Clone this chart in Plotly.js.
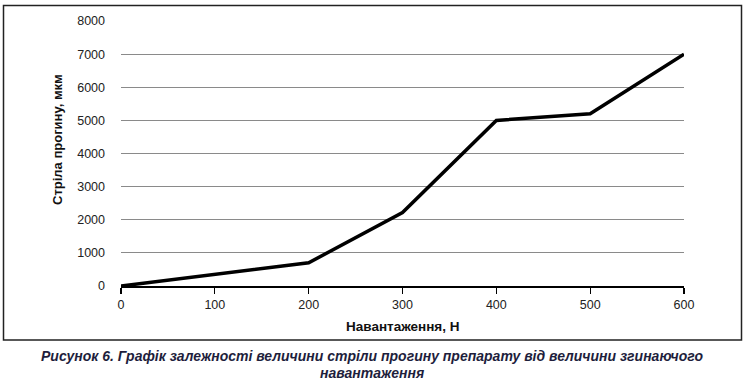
<!DOCTYPE html>
<html>
<head>
<meta charset="utf-8">
<script src="https://cdn.plot.ly/plotly-3.0.1.min.js"></script>
<style>html,body{margin:0;padding:0;background:#fff;}#chart{width:748px;height:386px;}</style>
</head>
<body>
<div id="chart"></div>
<script>
const loads = [0, 100, 200, 300, 400, 500, 600];
const deflection = [0, 340, 700, 2220, 5000, 5200, 7000];
const xTitle = 'Навантаження, Н';
const yTitle = 'Стріла прогину, мкм';
const captionLine1 = 'Рисунок 6. Графік залежності величини стріли прогину препарату від величини згинаючого';
const captionLine2 = 'навантаження';

const W = 748, H = 386;
const L = 121, R = 684, T = 21, B = 286;
const px = x => (x - L) / (R - L);
const py = y => (B - y) / (B - T);

const trace = {
  x: loads, y: deflection, type: 'scatter', mode: 'lines',
  line: {color: '#000', width: 3.5}, cliponaxis: false, hoverinfo: 'skip'
};

const layout = {
  width: W, height: H,
  margin: {l: L, r: W - R, t: T, b: H - B, pad: 0},
  paper_bgcolor: '#fff', plot_bgcolor: '#fff',
  showlegend: false,
  font: {family: 'Liberation Sans, Arial, sans-serif', size: 12.5, color: '#222'},
  xaxis: {
    range: [0, 600], tickvals: loads, ticktext: loads.map(String),
    showgrid: false, zeroline: false,
    showline: true, linecolor: '#000', linewidth: 1.5,
    ticks: 'outside', ticklen: 6, tickwidth: 1.2, tickcolor: '#000',
    tickfont: {size: 12.5, color: '#222'}, fixedrange: true
  },
  yaxis: {
    range: [0, 8000], dtick: 1000,
    showgrid: true, gridcolor: '#8a8a8a', gridwidth: 1,
    zeroline: false, showline: false, ticks: '',
    ticklabelstandoff: 15,
    tickfont: {size: 12.5, color: '#222'}, fixedrange: true
  },
  shapes: [{
    type: 'rect', xref: 'paper', yref: 'paper',
    x0: px(3.5), x1: px(741.5), y0: py(340), y1: py(5.5),
    line: {color: '#222', width: 1.5}, layer: 'below'
  }],
  annotations: [
    {text: xTitle, xref: 'paper', yref: 'paper', x: 0.5, y: py(326),
     showarrow: false, xanchor: 'center', yanchor: 'middle',
     font: {size: 13.5, weight: 'bold', color: '#111'}},
    {text: yTitle, xref: 'paper', yref: 'paper', x: px(57), y: py(140),
     textangle: -90, showarrow: false, xanchor: 'center', yanchor: 'middle',
     font: {size: 13, weight: 'bold', color: '#111'}},
    {text: captionLine1, xref: 'paper', yref: 'paper', x: px(372), y: py(356),
     showarrow: false, xanchor: 'center', yanchor: 'middle',
     font: {size: 14, weight: 'bold', style: 'italic', color: '#1e1e3c'}},
    {text: captionLine2, xref: 'paper', yref: 'paper', x: px(372), y: py(373),
     showarrow: false, xanchor: 'center', yanchor: 'middle',
     font: {size: 14, weight: 'bold', style: 'italic', color: '#1e1e3c'}}
  ]
};

Plotly.newPlot('chart', [trace], layout, {displayModeBar: false, staticPlot: true});
</script>
</body>
</html>
